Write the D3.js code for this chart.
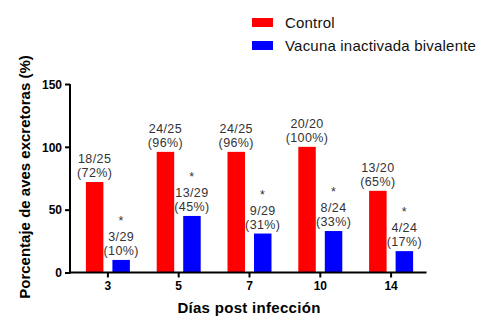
<!DOCTYPE html>
<html>
<head>
<meta charset="utf-8">
<script src="https://cdn.jsdelivr.net/npm/d3@7"></script>
<style>
  body { margin: 0; background: #fff; }
  svg text { font-family: Arial, "Liberation Sans", sans-serif; }
  .tick text { font-weight: bold; font-size: 12px; fill: #000; }
  .bar-label { font-size: 12.5px; fill: #333; letter-spacing: 0.4px; }
</style>
</head>
<body>
<div id="chart"></div>
<script>
// data
const days = ["3", "5", "7", "10", "14"];
const series = ["Control", "Vacuna inactivada bivalente"];
const colors = ["#ff0000", "#0000ff"];
const control = [72, 96, 96, 100, 65];
const vacuna = [10, 45, 31, 33, 17];
const controlLabels = ["18/25", "24/25", "24/25", "20/20", "13/20"];
const vacunaLabels = ["3/29", "13/29", "9/29", "8/24", "4/24"];
const yTicks = [0, 50, 100, 150];

const W = 493, H = 333;
const svg = d3.select("#chart").append("svg")
    .attr("width", W)
    .attr("height", H);

// scales
const x = d3.scaleBand().domain(days).range([72.5, 426.5]);
const inner = d3.scaleBand().domain(series).range([-22, 22]).paddingInner(0.34);
const y = d3.scaleLinear().domain([0, 150]).range([272.5, 84]);

const values = [control, vacuna];
const texts = [controlLabels, vacunaLabels];

// bars
series.forEach((s, si) => {
  const g = svg.append("g");
  g.selectAll("rect")
    .data(days)
    .enter().append("rect")
      .attr("x", d => x(d) + x.bandwidth() / 2 + inner(s))
      .attr("y", (d, i) => y(values[si][i]))
      .attr("width", inner.bandwidth())
      .attr("height", (d, i) => y(0) - y(values[si][i]))
      .attr("fill", colors[si]);

  // two line labels above the bars
  days.forEach((d, i) => {
    const cx = x(d) + x.bandwidth() / 2 + inner(s) + inner.bandwidth() / 2;
    const top = y(values[si][i]);
    const base2 = top - 5;
    g.append("text").attr("class", "bar-label")
      .attr("x", cx).attr("y", base2 - 14)
      .attr("text-anchor", "middle")
      .text(texts[si][i]);
    g.append("text").attr("class", "bar-label")
      .attr("x", cx).attr("y", base2)
      .attr("text-anchor", "middle")
      .text("(" + values[si][i] + "%)");
    if (si === 1) {
      g.append("text").attr("class", "bar-label")
        .attr("x", cx).attr("y", base2 - 30)
        .attr("text-anchor", "middle")
        .text("*");
    }
  });
});

// axes
const yAxis = svg.append("g")
    .attr("transform", "translate(70,0)")
    .call(d3.axisLeft(y).tickValues(yTicks).tickSize(5).tickSizeOuter(0));
yAxis.select(".domain").remove();
yAxis.selectAll(".tick line").attr("stroke", "#000").attr("stroke-width", 2);
yAxis.selectAll(".tick text").attr("x", -8).attr("dy", "0.36em");
svg.append("line")
    .attr("x1", 70).attr("x2", 70)
    .attr("y1", y(150)).attr("y2", y(0) + 1)
    .attr("stroke", "#000").attr("stroke-width", 2);

const xAxis = svg.append("g")
    .attr("transform", "translate(0," + y(0) + ")")
    .call(d3.axisBottom(x).tickSize(5).tickSizeOuter(0));
xAxis.select(".domain").remove();
xAxis.selectAll(".tick line").attr("stroke", "#000").attr("stroke-width", 2);
xAxis.selectAll(".tick text").attr("y", 9).attr("dy", "0.71em");
svg.append("line")
    .attr("x1", 69).attr("x2", 426.5)
    .attr("y1", y(0)).attr("y2", y(0))
    .attr("stroke", "#000").attr("stroke-width", 2);

// axis titles
svg.append("text")
    .attr("transform", "translate(30," + 177 + ") rotate(-90)")
    .attr("text-anchor", "middle")
    .style("font-size", "15px").style("font-weight", "bold")
    .text("Porcentaje de aves excretoras (%)");

svg.append("text")
    .attr("x", 249).attr("y", 313)
    .attr("text-anchor", "middle")
    .style("font-size", "15px").style("font-weight", "bold")
    .style("letter-spacing", "0.3px")
    .text("Días post infección");

// legend
const legend = svg.append("g").attr("transform", "translate(252,18)");
series.forEach((s, i) => {
  legend.append("rect")
    .attr("x", 0).attr("y", i * 23)
    .attr("width", 21).attr("height", 9)
    .attr("fill", colors[i]);
  legend.append("text")
    .attr("x", 33).attr("y", i * 23 + 9.5)
    .style("font-size", "15px").style("fill", "#111")
    .style("letter-spacing", "0.2px")
    .text(s);
});
</script>
</body>
</html>
